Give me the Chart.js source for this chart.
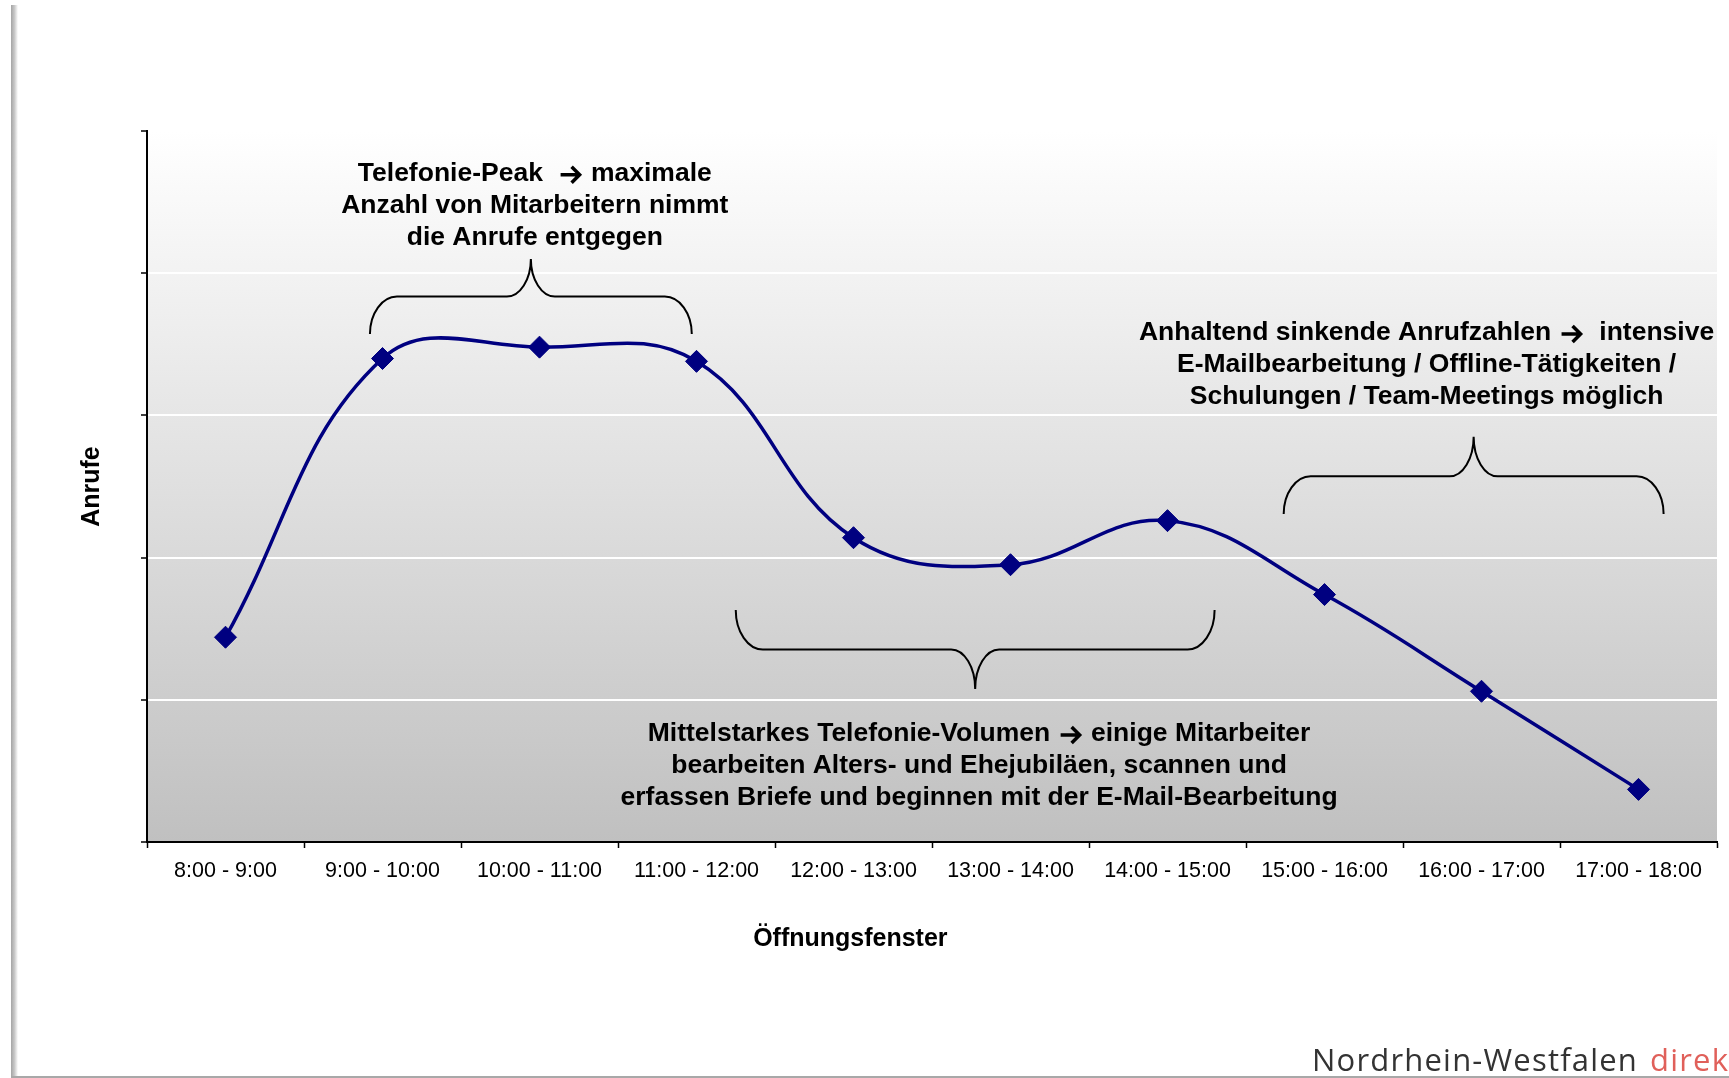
<!DOCTYPE html>
<html lang="de">
<head>
<meta charset="UTF-8" />
<script src="https://cdn.jsdelivr.net/npm/chart.js@4.4.1/dist/chart.umd.min.js"></script>
<style>
  html, body { margin: 0; padding: 0; background: #fff; }
  #wrap { width: 1729px; height: 1078px; position: relative; }
</style>
</head>
<body>
<div id="wrap"><canvas id="myChart"></canvas></div>
<script>
// Öffnungsfenster (categories)
const labels = [
  "8:00 - 9:00", "9:00 - 10:00", "10:00 - 11:00", "11:00 - 12:00", "12:00 - 13:00",
  "13:00 - 14:00", "14:00 - 15:00", "15:00 - 16:00", "16:00 - 17:00", "17:00 - 18:00",
];
// Anrufe - relative call volume, the original has no value labels
const anrufe = [72, 170, 174, 169, 107, 97.5, 113, 87, 53, 18.5];
// value axis (ticks only, no labels in the original)
const yMin = 0;
const yMax = 250;
const yStep = 50;

// text notes, anchored at (category index, value) of their first line
const noteAt = [[1.97, 235], [7.65, 179], [4.8, 38]];
const noteLines = [
  ["Telefonie-Peak  \u2192 maximale", "Anzahl von Mitarbeitern nimmt", "die Anrufe entgegen"],
  ["Anhaltend sinkende Anrufzahlen \u2192  intensive", "E-Mailbearbeitung / Offline-T\u00e4tigkeiten /", "Schulungen / Team-Meetings m\u00f6glich"],
  ["Mittelstarkes Telefonie-Volumen \u2192 einige Mitarbeiter", "bearbeiten Alters- und Ehejubil\u00e4en, scannen und", "erfassen Briefe und beginnen mit der E-Mail-Bearbeitung"],
];
// braces: [from index, to index, value at the ends, value of the bar, value at the tip]
const braces = [
  [0.92, 2.97, 178.6, 191.8, 205],
  [6.74, 9.16, 115.3, 128.6, 142.5],
  [3.25, 6.3, 81.6, 67.7, 53.8],
];
// x axis title sits left of centre in the original
const xTitle = "\u00d6ffnungsfenster";
const xTitleAt = 3.98;

const FONT = "'Liberation Sans', Arial, sans-serif";
Chart.defaults.color = "#000";
Chart.defaults.font.family = FONT;

function drawBrace(ctx, x1, x2, yEnd, yMid, yTip) {
  const xt = (x1 + x2) / 2;
  const k = 0.55;
  const r = 27; // corner radius
  const m = 24; // middle radius
  ctx.beginPath();
  ctx.moveTo(x1, yEnd);
  ctx.bezierCurveTo(x1, yEnd + k * (yMid - yEnd), x1 + r * (1 - k), yMid, x1 + r, yMid);
  ctx.lineTo(xt - m, yMid);
  ctx.bezierCurveTo(xt - m * (1 - k), yMid, xt, yTip - k * (yTip - yMid), xt, yTip);
  ctx.bezierCurveTo(xt, yTip - k * (yTip - yMid), xt + m * (1 - k), yMid, xt + m, yMid);
  ctx.lineTo(x2 - r, yMid);
  ctx.bezierCurveTo(x2 - r * (1 - k), yMid, x2, yEnd + k * (yMid - yEnd), x2, yEnd);
  ctx.stroke();
}

// one line of text, centred; the arrow is drawn as a heavy Wingdings-like stroke
const ARROW_W = 26;
function drawLine(ctx, text, cx, cy) {
  ctx.font = "bold 26.5px " + FONT;
  const parts = text.split("\u2192");
  let total = 0;
  parts.forEach((p, i) => {
    total += ctx.measureText(p).width;
    if (i < parts.length - 1) total += ARROW_W;
  });
  let px = cx - total / 2;
  ctx.textAlign = "left";
  parts.forEach((p, i) => {
    ctx.fillText(p, px, cy);
    px += ctx.measureText(p).width;
    if (i < parts.length - 1) {
      const ay = cy + 1;
      ctx.beginPath();
      ctx.moveTo(px + 3, ay);
      ctx.lineTo(px + ARROW_W - 4, ay);
      ctx.moveTo(px + ARROW_W - 12, ay - 8);
      ctx.lineTo(px + ARROW_W - 4, ay);
      ctx.lineTo(px + ARROW_W - 12, ay + 8);
      ctx.lineWidth = 3.5;
      ctx.lineJoin = "miter";
      ctx.stroke();
      px += ARROW_W;
    }
  });
}

// slide frame, plot gradient
const backdrop = {
  id: "backdrop",
  beforeDraw(chart) {
    const { ctx, chartArea: a, width, height } = chart;
    ctx.save();
    const side = ctx.createLinearGradient(11, 0, 18, 0);
    side.addColorStop(0, "#a4a4a4");
    side.addColorStop(0.5, "#c8c8c8");
    side.addColorStop(1, "#ffffff");
    ctx.fillStyle = side;
    ctx.fillRect(11, 5, 7, height - 5);
    ctx.fillStyle = "#a8a8a8";
    ctx.fillRect(11, height - 2, width - 11, 2);

    const g = ctx.createLinearGradient(0, a.top, 0, a.bottom);
    g.addColorStop(0, "#ffffff");
    g.addColorStop(1, "#c0c0c0");
    ctx.fillStyle = g;
    ctx.fillRect(a.left, a.top, a.right - a.left, a.bottom - a.top);
    ctx.restore();
  },
  afterDraw(chart) {
    const { ctx, scales: { x } } = chart;
    ctx.save();
    ctx.fillStyle = "#000";
    ctx.font = "bold 25px " + FONT;
    ctx.textAlign = "center";
    ctx.textBaseline = "middle";
    ctx.fillText(xTitle, x.getPixelForValue(xTitleAt), 939);

    ctx.font = "31px 'Open Sans', sans-serif";
    ctx.textAlign = "left";
    ctx.textBaseline = "alphabetic";
    ctx.letterSpacing = "1.2px";
    ctx.fillStyle = "#333333";
    ctx.fillText("Nordrhein-Westfalen", 1312, 1071);
    ctx.fillStyle = "#e0605a";
    ctx.fillText("direkt", 1650, 1071);
    ctx.restore();
  },
};

// braces and notes
const notes = {
  id: "notes",
  afterDatasetsDraw(chart) {
    const { ctx, scales: { x, y } } = chart;
    ctx.save();
    ctx.strokeStyle = "#000";
    ctx.lineWidth = 2;
    braces.forEach((b) => {
      drawBrace(ctx, x.getPixelForValue(b[0]), x.getPixelForValue(b[1]),
        y.getPixelForValue(b[2]), y.getPixelForValue(b[3]), y.getPixelForValue(b[4]));
    });
    ctx.fillStyle = "#000";
    ctx.textBaseline = "middle";
    noteAt.forEach((p, i) => {
      const px = x.getPixelForValue(p[0]);
      const py = y.getPixelForValue(p[1]);
      noteLines[i].forEach((t, j) => drawLine(ctx, t, px, py + j * 32));
    });
    ctx.restore();
  },
};

const ctx = document.getElementById("myChart").getContext("2d");
const myChart = new Chart(ctx, {
  type: "line",
  data: {
    labels: labels,
    datasets: [
      {
        label: "Anrufe",
        data: anrufe,
        borderColor: "#000080",
        backgroundColor: "#000080",
        borderWidth: 3.5,
        tension: 0.4,
        pointStyle: "rectRot",
        pointRadius: 11,
        pointBorderWidth: 1,
        pointBackgroundColor: "#000080",
        pointBorderColor: "#000080",
      },
    ],
  },
  options: {
    responsive: true,
    maintainAspectRatio: false,
    animation: false,
    layout: { padding: { left: 0, top: 131, right: 11, bottom: 106 } },
    plugins: {
      legend: { display: false },
      tooltip: { enabled: false },
    },
    scales: {
      x: {
        offset: true,
        afterFit: (s) => { s.height = 130; },
        border: { color: "#000", width: 2 },
        grid: {
          offset: true,
          drawOnChartArea: false,
          drawTicks: true,
          tickLength: 6,
          tickColor: "#000",
          tickWidth: 1.5,
        },
        ticks: { font: { size: 21.5 }, padding: 10, maxRotation: 0, autoSkip: false },
        title: { display: false },
      },
      y: {
        min: yMin,
        max: yMax,
        afterFit: (s) => { s.width = 147; },
        border: { color: "#000", width: 2 },
        grid: {
          color: "#ffffff",
          lineWidth: 2,
          drawTicks: true,
          tickLength: 6,
          tickColor: "#000",
          tickWidth: 1.5,
        },
        ticks: { display: false, stepSize: yStep },
        title: {
          display: true,
          text: "Anrufe",
          font: { size: 25, weight: "bold" },
          padding: { top: 77, bottom: 0 },
        },
      },
    },
  },
  plugins: [backdrop, notes],
});
</script>
</body>
</html>
